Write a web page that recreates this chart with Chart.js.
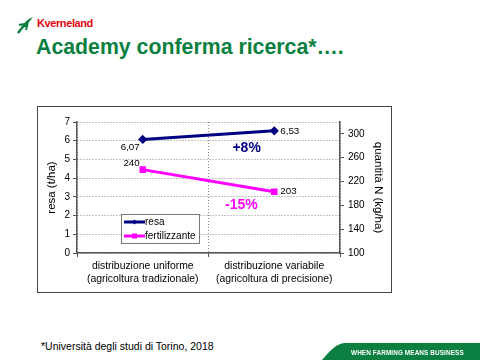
<!DOCTYPE html>
<html>
<head>
<meta charset="utf-8">
<script src="https://cdn.jsdelivr.net/npm/chart.js@4.4.1/dist/chart.umd.min.js"></script>
<style>
  body { margin:0; width:480px; height:360px; background:#fff; position:relative; overflow:hidden;
         font-family:"Liberation Sans", Arial, sans-serif; }
  #logo { position:absolute; left:16px; top:16px; }
  #brand { position:absolute; left:37px; top:17px; font-size:11px; font-weight:bold; color:#e30613; letter-spacing:-0.4px; }
  #title { position:absolute; left:36px; top:35px; font-size:21.3px; font-weight:bold; color:#0a7f3f; white-space:nowrap; }
  #box { position:absolute; left:37px; top:106px; width:355px; height:187px; }
  #frame { position:absolute; left:37px; top:106px; width:355px; height:187px; box-sizing:border-box;
           border:1px solid #444; pointer-events:none; }
  #note { position:absolute; left:41px; top:340px; font-size:10.5px; color:#000; }
  #banner { position:absolute; left:0; top:0; }
</style>
</head>
<body>
<svg id="logo" width="18" height="18" viewBox="0 0 18 18">
  <path d="M2 17 L9 8" stroke="#0a7f3f" stroke-width="2.4" fill="none"/>
  <path d="M5 12 Q9 4 17 1 Q12 7 10 11 Z" fill="#0a7f3f"/>
  <path d="M3 9 Q8 7.5 11 9" stroke="#0a7f3f" stroke-width="2" fill="none"/>
  <path d="M10 14 Q11.5 10 11.5 6" stroke="#0a7f3f" stroke-width="2" fill="none"/>
</svg>
<div id="brand">Kverneland</div>
<div id="title">Academy conferma ricerca*….</div>

<div id="box"><canvas id="chart" width="355" height="187"></canvas></div>
<div id="frame"></div>

<div id="note">*Università degli studi di Torino, 2018</div>
<svg id="banner" width="480" height="360">
  <path d="M322 360 C330 351 336 343 346 343 L480 343 L480 360 Z" fill="#0a7f3f"/>
  <text x="351" y="355" font-family="Liberation Sans, Arial" font-weight="bold" font-size="6.4" fill="#fff" letter-spacing="0.1">WHEN FARMING MEANS BUSINESS</text>
</svg>

<script>
const categories  = [["distribuzione uniforme", "(agricoltura tradizionale)"],
                     ["distribuzione variabile", "(agricoltura di precisione)"]];
const resa        = [6.07, 6.53];
const fertilizer  = [240, 203];
const resaLabels  = ["6,07", "6,53"];
const fertLabels  = ["240", "203"];
const leftTicks   = [0, 1, 2, 3, 4, 5, 6, 7];
const rightTicks  = [100, 140, 180, 220, 260, 300];
// percent changes, placed in data coordinates (category index, left axis value)
const changes     = [{ text: "+8%",  x: 0.79, y: 5.6,  color: "#000080" },
                     { text: "-15%", x: 0.75, y: 2.55, color: "#ff00ff" }];

const font = '"Liberation Sans", Arial, sans-serif';

const overlay = {
  id: "overlay",
  afterDatasetsDraw(chart) {
    const { ctx, scales: { x, y } } = chart;
    ctx.save();
    ctx.font = `9.8px ${font}`;
    ctx.fillStyle = "#000";
    ctx.textBaseline = "middle";

    // value labels
    chart.data.datasets.forEach((ds, i) => {
      const meta = chart.getDatasetMeta(i);
      meta.data.forEach((pt, j) => {
        if (j === 0) {
          ctx.textAlign = "right";
          ctx.fillText(ds.valueLabels[j], pt.x - 3, pt.y + (i === 0 ? 8 : -6));
        } else {
          ctx.textAlign = "left";
          ctx.fillText(ds.valueLabels[j], pt.x + 6, pt.y);
        }
      });
    });

    // percent changes
    ctx.font = `bold 14px ${font}`;
    ctx.textAlign = "center";
    changes.forEach(c => {
      ctx.fillStyle = c.color;
      ctx.fillText(c.text, x.getPixelForValue(c.x), y.getPixelForValue(c.y));
    });

    // legend
    const lx = 84, ly = 108, lw = 78, lh = 29;
    ctx.fillStyle = "#fff";
    ctx.fillRect(lx, ly, lw, lh);
    ctx.strokeStyle = "#777";
    ctx.lineWidth = 1;
    ctx.strokeRect(lx + 0.5, ly + 0.5, lw, lh);
    ctx.font = `10px ${font}`;
    ctx.textAlign = "left";
    chart.data.datasets.forEach((ds, i) => {
      const ey = ly + 8 + i * 14;
      ctx.strokeStyle = ds.borderColor;
      ctx.lineWidth = 3;
      ctx.beginPath();
      ctx.moveTo(lx + 3, ey);
      ctx.lineTo(lx + 24, ey);
      ctx.stroke();
      ctx.fillStyle = ds.borderColor;
      if (i === 0) {
        ctx.beginPath();
        ctx.moveTo(lx + 13.5, ey - 2.5); ctx.lineTo(lx + 16, ey);
        ctx.lineTo(lx + 13.5, ey + 2.5); ctx.lineTo(lx + 11, ey);
        ctx.fill();
      } else {
        ctx.fillRect(lx + 11, ey - 2.5, 5, 5);
      }
      ctx.fillStyle = "#000";
      ctx.fillText(ds.label, lx + 24, ey + 0.5);
    });
    ctx.restore();
  }
};

new Chart(document.getElementById("chart"), {
  type: "line",
  data: {
    labels: categories,
    datasets: [
      { label: "resa", data: resa, valueLabels: resaLabels, yAxisID: "y",
        borderColor: "#000080", backgroundColor: "#000080", borderWidth: 3,
        pointStyle: "rectRot", pointRadius: 2.5, tension: 0 },
      { label: "fertilizzante", data: fertilizer, valueLabels: fertLabels, yAxisID: "y2",
        borderColor: "#ff00ff", backgroundColor: "#ff00ff", borderWidth: 3,
        pointStyle: "rect", pointRadius: 2.5, tension: 0 }
    ]
  },
  options: {
    responsive: false,
    animation: false,
    devicePixelRatio: 1,
    layout: { padding: { top: 16, left: 0, right: 0, bottom: 0 } },
    plugins: { legend: { display: false }, tooltip: { enabled: false } },
    scales: {
      x: {
        offset: true,
        grid: { offset: true, color: "#8c8c8c", tickLength: 4, tickColor: "#555" },
        border: { color: "#555", width: 1.5, dash: [1, 2] },
        ticks: { color: "#000", font: { family: font, size: 10.4 }, padding: 3, maxRotation: 0 },
        afterFit: s => { s.height = 40; }
      },
      y: {
        position: "left", min: 0, max: 7,
        afterBuildTicks: s => { s.ticks = leftTicks.map(v => ({ value: v })); },
        grid: { color: "#8c8c8c", tickLength: 4, tickColor: "#555" },
        border: { color: "#555", width: 1.5, dash: [1, 2] },
        ticks: { color: "#000", font: { family: font, size: 10 }, padding: 3 },
        title: { display: true, text: "resa (t/ha)", color: "#000", font: { family: font, size: 11.5 }, padding: { top: 8, bottom: 0 } },
        afterFit: s => { s.width = 40; }
      },
      y2: {
        position: "right", min: 100, max: 320,
        afterBuildTicks: s => { s.ticks = rightTicks.map(v => ({ value: v })); },
        grid: { drawOnChartArea: false, tickLength: 4, tickColor: "#555" },
        border: { color: "#555", width: 1.5 },
        ticks: { color: "#000", font: { family: font, size: 10 }, padding: 4 },
        title: { display: true, text: "quantità N (kg/ha)", color: "#000", font: { family: font, size: 11.5 }, padding: { top: 7, bottom: 0 } },
        afterFit: s => { s.width = 52; }
      }
    }
  },
  plugins: [overlay]
});
</script>
</body>
</html>
